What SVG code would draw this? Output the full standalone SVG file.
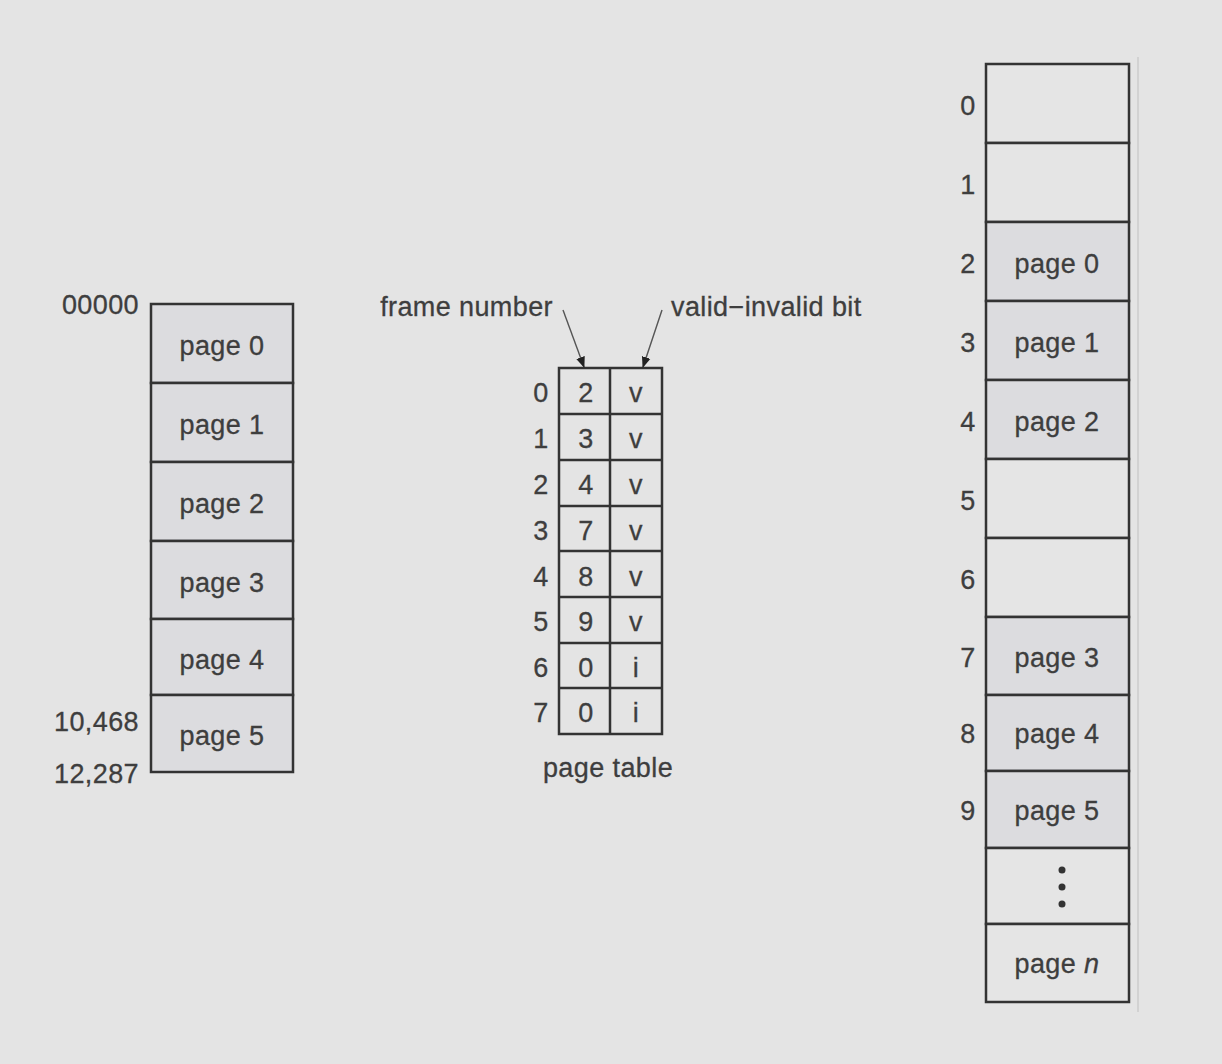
<svg xmlns="http://www.w3.org/2000/svg" width="1222" height="1064" viewBox="0 0 1222 1064">
<style>
text{font-family:"Liberation Sans",Arial,sans-serif;font-size:27px;letter-spacing:0.4px;fill:#3e3e3e;stroke:#3e3e3e;stroke-width:0.3}
.c{text-anchor:middle}
.e{text-anchor:end}
.pg{fill:#dcdcdf;stroke:#333;stroke-width:2.5}
.em{fill:#e5e5e5;stroke:#333;stroke-width:2.5}
.pt{fill:none;stroke:#333;stroke-width:2.5}
.ln{stroke:#555;stroke-width:1.4;fill:none}
</style>
<defs>
<marker id="ah" viewBox="0 0 10 10" refX="9" refY="5" markerWidth="8" markerHeight="8" orient="auto" markerUnits="strokeWidth">
<path d="M0,1 L10,5 L0,9 z" fill="#222"/>
</marker>
</defs>
<rect x="0" y="0" width="1222" height="1064" fill="#e4e4e4"/>

<g id="logical-memory">
<rect class="pg" x="151" y="304" width="142" height="79"/>
<rect class="pg" x="151" y="383" width="142" height="79"/>
<rect class="pg" x="151" y="462" width="142" height="79"/>
<rect class="pg" x="151" y="541" width="142" height="78"/>
<rect class="pg" x="151" y="619" width="142" height="76"/>
<rect class="pg" x="151" y="695" width="142" height="77"/>
<text class="c" x="222" y="355">page 0</text>
<text class="c" x="222" y="434">page 1</text>
<text class="c" x="222" y="513">page 2</text>
<text class="c" x="222" y="592">page 3</text>
<text class="c" x="222" y="669">page 4</text>
<text class="c" x="222" y="745">page 5</text>
<text class="e" x="139" y="314">00000</text>
<text class="e" x="139" y="731">10,468</text>
<text class="e" x="139" y="783">12,287</text>
</g>

<g id="page-table">
<rect class="pt" x="559" y="368" width="103" height="366"/>
<line class="pt" x1="610" y1="368" x2="610" y2="734"/>
<line class="pt" x1="559" y1="414" x2="662" y2="414"/>
<line class="pt" x1="559" y1="460" x2="662" y2="460"/>
<line class="pt" x1="559" y1="506" x2="662" y2="506"/>
<line class="pt" x1="559" y1="551" x2="662" y2="551"/>
<line class="pt" x1="559" y1="597" x2="662" y2="597"/>
<line class="pt" x1="559" y1="643" x2="662" y2="643"/>
<line class="pt" x1="559" y1="688" x2="662" y2="688"/>
<text class="c" x="541" y="402">0</text><text class="c" x="586" y="402">2</text><text class="c" x="636" y="402">v</text>
<text class="c" x="541" y="448">1</text><text class="c" x="586" y="448">3</text><text class="c" x="636" y="448">v</text>
<text class="c" x="541" y="494">2</text><text class="c" x="586" y="494">4</text><text class="c" x="636" y="494">v</text>
<text class="c" x="541" y="540">3</text><text class="c" x="586" y="540">7</text><text class="c" x="636" y="540">v</text>
<text class="c" x="541" y="586">4</text><text class="c" x="586" y="586">8</text><text class="c" x="636" y="586">v</text>
<text class="c" x="541" y="631">5</text><text class="c" x="586" y="631">9</text><text class="c" x="636" y="631">v</text>
<text class="c" x="541" y="677">6</text><text class="c" x="586" y="677">0</text><text class="c" x="636" y="677">i</text>
<text class="c" x="541" y="722">7</text><text class="c" x="586" y="722">0</text><text class="c" x="636" y="722">i</text>
<text class="c" x="608" y="777">page table</text>
<text class="e" x="553" y="316">frame number</text>
<text x="671" y="316">valid−invalid bit</text>
</g>

<g id="connectors">
<line class="ln" x1="563" y1="310" x2="584" y2="367" marker-end="url(#ah)"/>
<line class="ln" x1="662" y1="310" x2="643" y2="367" marker-end="url(#ah)"/>
</g>

<g id="physical-memory">
<rect class="em" x="986" y="64" width="143" height="79"/>
<rect class="em" x="986" y="143" width="143" height="79"/>
<rect class="pg" x="986" y="222" width="143" height="79"/>
<rect class="pg" x="986" y="301" width="143" height="79"/>
<rect class="pg" x="986" y="380" width="143" height="79"/>
<rect class="em" x="986" y="459" width="143" height="79"/>
<rect class="em" x="986" y="538" width="143" height="79"/>
<rect class="pg" x="986" y="617" width="143" height="78"/>
<rect class="pg" x="986" y="695" width="143" height="76"/>
<rect class="pg" x="986" y="771" width="143" height="77"/>
<rect class="em" x="986" y="848" width="143" height="76"/>
<rect class="em" x="986" y="924" width="143" height="78"/>
<text class="c" x="968" y="115">0</text>
<text class="c" x="968" y="194">1</text>
<text class="c" x="968" y="273">2</text>
<text class="c" x="968" y="352">3</text>
<text class="c" x="968" y="431">4</text>
<text class="c" x="968" y="510">5</text>
<text class="c" x="968" y="589">6</text>
<text class="c" x="968" y="667">7</text>
<text class="c" x="968" y="743">8</text>
<text class="c" x="968" y="820">9</text>
<text class="c" x="1057" y="273">page 0</text>
<text class="c" x="1057" y="352">page 1</text>
<text class="c" x="1057" y="431">page 2</text>
<text class="c" x="1057" y="667">page 3</text>
<text class="c" x="1057" y="743">page 4</text>
<text class="c" x="1057" y="820">page 5</text>
<text class="c" x="1057" y="973">page <tspan font-style="italic">n</tspan></text>
<circle cx="1062" cy="870" r="3.5" fill="#333"/>
<circle cx="1062" cy="887" r="3.5" fill="#333"/>
<circle cx="1062" cy="904" r="3.5" fill="#333"/>
<line x1="1138" y1="57" x2="1138" y2="1012" stroke="#cdcdcd" stroke-width="1.5"/>
</g>
</svg>
